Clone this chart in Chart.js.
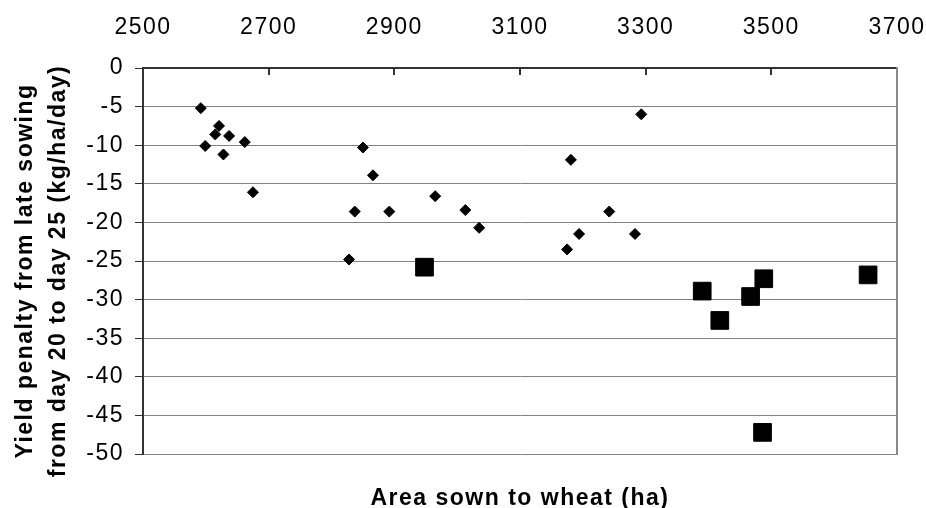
<!DOCTYPE html>
<html>
<head>
<meta charset="utf-8">
<script src="https://cdn.jsdelivr.net/npm/chart.js@4/dist/chart.umd.min.js"></script>
<style>
  html, body { margin: 0; padding: 0; background: #fff; }
  #wrap { width: 926px; height: 508px; }
</style>
</head>
<body>
<div id="wrap"><canvas id="chart" width="926" height="508"></canvas></div>
<script>
// Data
const diamondX = [2592, 2599, 2615, 2621, 2637, 2628, 2662, 2675, 2850, 2866, 2837,
                  2892, 2828, 2965, 3013, 3035, 3293, 3181, 3242, 3194, 3283, 3175];
const diamondY = [-5.2, -10.1, -8.6, -7.5, -8.8, -11.2, -9.6, -16.1, -10.3, -13.9, -18.6,
                  -18.6, -24.8, -16.6, -18.4, -20.7, -6.0, -11.9, -18.6, -21.5, -21.5, -23.5];
const squareX = [2948, 3390, 3418, 3467, 3488, 3654, 3486];
const squareY = [-25.8, -28.9, -32.7, -29.6, -27.3, -26.8, -47.2];

const xRange = [2500, 3700];
const xStep = 200;
const yRange = [-50, 0];
const yStep = 5;

const xTitle = 'Area sown to wheat (ha)';
const yTitle = ['Yield penalty from late sowing', 'from day 20 to day 25 (kg/ha/day)'];

const FONT = "'Liberation Sans', Arial, sans-serif";
const tickFont = { family: FONT, size: 23 };
Chart.defaults.font.family = FONT;
Chart.defaults.color = '#000';

const toPoints = (xs, ys) => xs.map((x, i) => ({ x: x, y: ys[i] }));

// Excel-ish wide text spacing
const spacing = {
  id: 'spacing',
  beforeDraw(chart) { chart.ctx.letterSpacing = '1.5px'; }
};

// Axis titles drawn by hand so they sit where the original has them
const axisTitles = {
  id: 'axisTitles',
  afterDraw(chart) {
    const ctx = chart.ctx;
    const area = chart.chartArea;
    ctx.save();
    ctx.fillStyle = '#000';
    ctx.font = 'bold 23px ' + FONT;
    ctx.letterSpacing = '1.5px';
    ctx.textAlign = 'center';
    ctx.textBaseline = 'alphabetic';
    ctx.fillText(xTitle, (area.left + area.right) / 2, 505);
    ctx.translate(0, 271);
    ctx.rotate(-Math.PI / 2);
    ctx.fillText(yTitle[0], 0, 32);
    ctx.fillText(yTitle[1], 0, 65);
    ctx.restore();
  }
};

new Chart(document.getElementById('chart'), {
  type: 'scatter',
  data: {
    datasets: [{
      label: 'diamonds',
      data: toPoints(diamondX, diamondY),
      pointStyle: 'rectRot',
      pointRadius: 5.5,
      borderWidth: 1,
      backgroundColor: '#000',
      borderColor: '#000'
    }, {
      label: 'squares',
      data: toPoints(squareX, squareY),
      pointStyle: 'rect',
      pointRadius: 12.5,
      borderWidth: 1,
      backgroundColor: '#000',
      borderColor: '#000'
    }]
  },
  options: {
    responsive: false,
    animation: false,
    events: [],
    layout: { padding: { left: 0, right: 0, top: 0, bottom: 54 } },
    plugins: { legend: { display: false }, tooltip: { enabled: false } },
    scales: {
      x: {
        position: 'top',
        min: xRange[0], max: xRange[1],
        afterFit: s => { s.height = 68; s.paddingLeft = 0; s.paddingRight = 0; },
        ticks: { stepSize: xStep, padding: 34, maxRotation: 0, autoSkip: false,
                 font: tickFont, callback: v => String(v) },
        grid: { drawOnChartArea: false, tickLength: -7, tickColor: '#333', lineWidth: 2 },
        border: { color: '#333', width: 2 }
      },
      y: {
        min: yRange[0], max: yRange[1],
        afterFit: s => { s.width = 143; s.paddingTop = 0; s.paddingBottom = 0; },
        ticks: { stepSize: yStep, padding: 11, font: tickFont, callback: v => String(v) },
        grid: { color: '#808080', lineWidth: 1, tickLength: 8, tickColor: '#333' },
        border: { color: '#333', width: 2 }
      },
      y2: {
        position: 'right',
        min: yRange[0], max: yRange[1],
        afterFit: s => { s.width = 29; s.paddingTop = 0; s.paddingBottom = 0; },
        ticks: { display: false },
        grid: { drawOnChartArea: false, drawTicks: false },
        border: { color: '#888', width: 2 }
      }
    }
  },
  plugins: [spacing, axisTitles]
});
</script>
</body>
</html>
